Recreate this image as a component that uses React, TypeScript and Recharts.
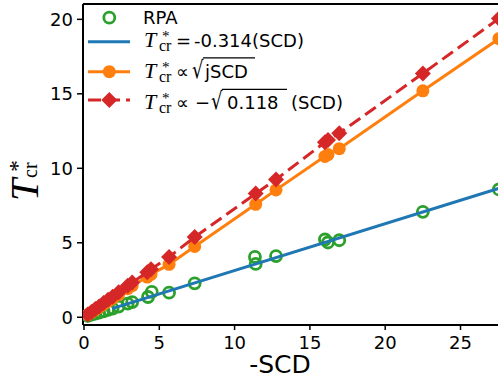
import React from "react";
import { ScatterChart, Scatter, XAxis, YAxis, ReferenceLine, Legend } from "recharts";

// -SCD values and critical temperatures
const RPA_X = [0.25, 0.5, 0.75, 1.0, 1.3, 1.6, 1.9, 2.3, 2.9, 3.2, 4.25, 4.5, 5.65, 7.35, 11.35, 11.4, 12.75, 16.0, 16.2, 16.95, 22.5, 27.55];
const RPA_Y = [0.1, 0.17, 0.24, 0.31, 0.4, 0.5, 0.58, 0.72, 0.92, 1.02, 1.36, 1.7, 1.65, 2.28, 4.05, 3.58, 4.11, 5.22, 5.02, 5.17, 7.08, 8.58];

const FIT_X = [1.86, 27.55];
const FIT_Y = [0.58, 8.65];

const SQRT_X = [0.25, 0.5, 0.75, 1.0, 1.3, 1.6, 1.9, 2.3, 2.9, 3.2, 4.2, 4.45, 5.65, 7.35, 11.4, 12.75, 16.0, 16.2, 16.95, 22.5, 27.55];
const SQRT_Y = [0.17, 0.33, 0.5, 0.66, 0.86, 1.06, 1.26, 1.52, 1.92, 2.12, 2.7, 2.88, 3.55, 4.75, 7.58, 8.55, 10.8, 10.92, 11.32, 15.2, 18.7];

const NEG_X = [0.25, 0.5, 0.75, 1.0, 1.3, 1.6, 1.9, 2.3, 2.9, 3.2, 4.2, 4.45, 5.65, 7.35, 11.4, 12.75, 16.0, 16.2, 16.95, 22.5, 27.55];
const NEG_Y = [0.18, 0.36, 0.55, 0.73, 0.95, 1.17, 1.38, 1.68, 2.12, 2.34, 3.02, 3.22, 4.05, 5.38, 8.3, 9.25, 11.75, 11.9, 12.35, 16.37, 20.05];

const X_TICKS = [0, 5, 10, 15, 20, 25];
const Y_TICKS = [0, 5, 10, 15, 20];
const X_DOMAIN = [-0.066, 27.49];
const Y_DOMAIN = [-0.52, 21.03];

const GREEN = "#2ca02c";
const BLUE = "#1f77b4";
const ORANGE = "#ff7f0e";
const RED = "#d62728";
const SANS = "DejaVu Sans";
const SERIF = "Liberation Serif";

const zip = (xs: number[], ys: number[]) => xs.map((x, i) => ({ x, y: ys[i] }));

const rpa = zip(RPA_X, RPA_Y);
const fit = zip(FIT_X, FIT_Y);
const sqrtFit = zip(SQRT_X, SQRT_Y);
const negFit = zip(NEG_X, NEG_Y);

const Ring = ({ cx, cy }: any) =>
  cx == null ? <g /> : <circle cx={cx} cy={cy} r={5.5} fill="none" stroke={GREEN} strokeWidth={2.8} />;
const Dot = ({ cx, cy }: any) =>
  cx == null ? <g /> : <circle cx={cx} cy={cy} r={6.5} fill={ORANGE} />;
const Diamond = ({ cx, cy }: any) => {
  if (cx == null) return <g />;
  const d = 8;
  return <polygon points={`${cx},${cy - d} ${cx + d},${cy} ${cx},${cy + d} ${cx - d},${cy}`} fill={RED} />;
};

// T*_cr as one text with stacked super/subscript
function TCr({ x, y }: { x: number; y: number }) {
  return (
    <text fill="#000" fontFamily={SERIF}>
      <tspan x={x} y={y} fontStyle="italic" fontSize={22}>T</tspan>
      <tspan x={x + 18} y={y - 6} fontSize={15}>*</tspan>
      <tspan x={x + 15} y={y + 4} fontSize={16}>cr</tspan>
    </text>
  );
}

function LegendBox() {
  return (
    <svg width={498} height={130} style={{ display: "block" }}>
      <circle cx={109.3} cy={17.7} r={5.5} fill="none" stroke={GREEN} strokeWidth={2.8} />
      <text x={143} y={24} fontFamily={SANS} fontSize={18}>RPA</text>

      <line x1={88} x2={130} y1={41.7} y2={41.7} stroke={BLUE} strokeWidth={3} />
      <TCr x={144} y={47} />
      <text x={176} y={47} fontFamily={SANS} fontSize={18}>=</text>
      <text x={194} y={47} fontFamily={SANS} fontSize={18}>-0.314(SCD)</text>

      <line x1={88} x2={130} y1={71.7} y2={71.7} stroke={ORANGE} strokeWidth={3} />
      <circle cx={109.3} cy={71.7} r={6.5} fill={ORANGE} />
      <TCr x={144} y={77.5} />
      <text x={176} y={77.5} fontFamily={SANS} fontSize={18}>∝</text>
      <text x={192} y={78.5} fontFamily={SANS} fontSize={24} transform="translate(192 0) scale(0.75 1) translate(-192 0)">√</text>
      <line x1={203} x2={255} y1={57.8} y2={57.8} stroke="#000" strokeWidth={1.3} />
      <text x={205} y={77.5} fontFamily={SANS} fontSize={18}>jSCD</text>

      <line x1={88} x2={130} y1={100} y2={100} stroke={RED} strokeWidth={3} strokeDasharray="13 6" />
      <polygon points="109.3,92 117.3,100 109.3,108 101.3,100" fill={RED} />
      <TCr x={144} y={108.5} />
      <text x={176} y={108.5} fontFamily={SANS} fontSize={18}>∝</text>
      <text x={195} y={108.5} fontFamily={SANS} fontSize={18}>−</text>
      <text x={211} y={109.5} fontFamily={SANS} fontSize={24} transform="translate(211 0) scale(0.75 1) translate(-211 0)">√</text>
      <line x1={222} x2={287} y1={89.3} y2={89.3} stroke="#000" strokeWidth={1.3} />
      <text x={227} y={108.5} fontFamily={SANS} fontSize={18}>0.118</text>
      <text x={291} y={108.5} fontFamily={SANS} fontSize={18}>(SCD)</text>
    </svg>
  );
}

function YLabel() {
  return (
    <g transform="translate(38,181) rotate(-90)">
      <text fill="#000" fontFamily={SERIF}>
        <tspan x={-20} y={0} fontStyle="italic" fontSize={40}>T</tspan>
        <tspan x={9} y={-13} fontSize={24}>*</tspan>
        <tspan x={3} y={-1.5} fontSize={20}>cr</tspan>
      </text>
    </g>
  );
}

const XTick = ({ x, y, payload }: any) => (
  <text x={x} y={y} dy="0.71em" textAnchor="middle" fontFamily={SANS} fontSize={18} fill="#000">
    {payload.value}
  </text>
);
const YTick = ({ x, y, payload }: any) => (
  <text x={x} y={y} dy="0.36em" textAnchor="end" fontFamily={SANS} fontSize={18} fill="#000">
    {payload.value}
  </text>
);

export default function App() {
  return (
    <div style={{ position: "absolute", left: 0, top: 0, width: 498, height: 379, overflow: "hidden", background: "#fff" }}>
      <ScatterChart width={498} height={379} margin={{ top: 4, right: 0, bottom: 0, left: 0 }}>
        <XAxis
          type="number"
          dataKey="x"
          domain={X_DOMAIN}
          ticks={X_TICKS}
          allowDataOverflow
          height={54}
          axisLine={{ stroke: "#000", strokeWidth: 2 }}
          tickLine={{ stroke: "#000", strokeWidth: 1.5 }}
          tickSize={5}
          tickMargin={6}
          tick={XTick}
          label={{
            content: () => (
              <text x={280} y={373} textAnchor="middle" fontFamily={SANS} fontSize={25} fill="#000">-SCD</text>
            ),
          }}
        />
        <YAxis
          type="number"
          dataKey="y"
          domain={Y_DOMAIN}
          ticks={Y_TICKS}
          allowDataOverflow
          width={83}
          axisLine={{ stroke: "#000", strokeWidth: 2 }}
          tickLine={{ stroke: "#000", strokeWidth: 1.5 }}
          tickSize={6}
          tickMargin={4}
          tick={YTick}
          label={{ content: () => <YLabel /> }}
        />
        <ReferenceLine y={Y_DOMAIN[1]} stroke="#000" strokeWidth={2} />
        <Scatter data={rpa} shape={Ring} isAnimationActive={false} />
        <Scatter data={fit} shape={() => <g />} line={{ stroke: BLUE, strokeWidth: 3 }} isAnimationActive={false} />
        <Scatter data={sqrtFit} shape={Dot} line={{ stroke: ORANGE, strokeWidth: 3 }} isAnimationActive={false} />
        <Scatter
          data={negFit}
          shape={Diamond}
          line={{ stroke: RED, strokeWidth: 3, strokeDasharray: "13 6" }}
          isAnimationActive={false}
        />
        <Legend
          layout="vertical"
          align="center"
          verticalAlign="middle"
          content={() => <LegendBox />}
          wrapperStyle={{ left: 0, top: 0, width: 498, height: 130, pointerEvents: "none" }}
        />
      </ScatterChart>
    </div>
  );
}
